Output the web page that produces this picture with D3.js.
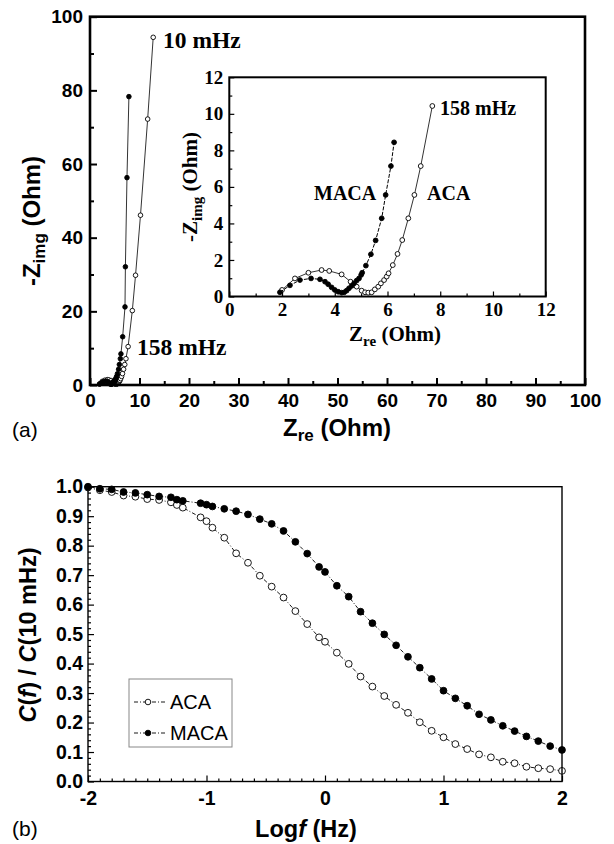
<!DOCTYPE html>
<html>
<head>
<meta charset="utf-8">
<script src="https://cdn.jsdelivr.net/npm/d3@7"></script>
<style>
  body { margin: 0; background: #fff; }
  svg { display: block; }
  .sans { font-family: "Liberation Sans", Arial, sans-serif; }
  .serif { font-family: "Liberation Serif", "Times New Roman", serif; }
</style>
</head>
<body>
<svg width="614" height="844"></svg>
<script>
// Nyquist data (Zre, -Zimg) in Ohm
const acaZre  = [2.0, 2.49, 3.0, 3.5, 3.79, 4.26, 4.6, 4.83, 5.02, 5.15, 5.27, 5.4, 5.52, 5.65, 5.75, 5.87, 5.97, 6.04, 6.2, 6.38, 6.56, 6.79, 7.02, 7.26, 7.7, 8.55, 9.2, 10.2, 11.65, 12.77];
const acaZimg = [0.36, 0.99, 1.30, 1.45, 1.40, 1.21, 0.81, 0.54, 0.32, 0.23, 0.21, 0.23, 0.39, 0.54, 0.72, 0.90, 1.09, 1.27, 1.72, 2.33, 3.09, 4.28, 5.56, 7.14, 10.43, 20.2, 29.8, 46.1, 72.2, 94.4];
const macaZre  = [1.92, 2.3, 2.68, 3.1, 3.44, 3.63, 3.75, 3.88, 4.0, 4.13, 4.26, 4.36, 4.45, 4.54, 4.64, 4.73, 4.83, 4.92, 5.0, 5.04, 5.18, 5.37, 5.55, 5.78, 5.93, 6.13, 6.25, 6.6, 7.07, 7.15, 7.47, 7.86];
const macaZimg = [0.23, 0.61, 0.9, 0.99, 0.94, 0.81, 0.67, 0.5, 0.36, 0.26, 0.21, 0.23, 0.32, 0.45, 0.58, 0.72, 0.87, 0.99, 1.18, 1.3, 1.69, 2.31, 3.07, 4.28, 5.56, 7.14, 8.44, 13.1, 21.2, 32.1, 56.3, 78.3];

// normalised capacitance vs log f
const logF = [-2, -1.9, -1.8, -1.7, -1.6, -1.5, -1.4, -1.3, -1.25, -1.2, -1.05, -1.0, -0.95,
  -0.85, -0.75, -0.65, -0.55, -0.45, -0.35, -0.25, -0.15, -0.05, 0,
  0.1, 0.2, 0.3, 0.4, 0.5, 0.6, 0.7, 0.8, 0.9, 1.0, 1.1, 1.2, 1.3, 1.4, 1.5, 1.6, 1.7, 1.8, 1.9, 2.0];
const acaC = [0.997, 0.988, 0.982, 0.97, 0.966, 0.958, 0.955, 0.947, 0.938, 0.929, 0.896, 0.883, 0.861,
  0.827, 0.774, 0.742, 0.698, 0.661, 0.624, 0.578, 0.534, 0.489, 0.474,
  0.437, 0.399, 0.356, 0.322, 0.29, 0.26, 0.233, 0.201, 0.172, 0.15, 0.127, 0.11, 0.092, 0.082, 0.067, 0.062, 0.05, 0.045, 0.042, 0.036];
const macaC = [1.0, 0.993, 0.991, 0.982, 0.979, 0.973, 0.967, 0.964, 0.956, 0.952, 0.944, 0.939, 0.933,
  0.925, 0.917, 0.906, 0.89, 0.874, 0.85, 0.813, 0.773, 0.728, 0.711,
  0.664, 0.627, 0.576, 0.537, 0.499, 0.462, 0.423, 0.386, 0.348, 0.308, 0.282, 0.257, 0.228, 0.209, 0.189, 0.171, 0.153, 0.137, 0.12, 0.107];

const seriesNames = ['ACA', 'MACA'];

const svg = d3.select('svg');
const zip = (a, b) => a.map((d, i) => [d, b[i]]);
const aca = zip(acaZre, acaZimg);
const maca = zip(macaZre, macaZimg);

// draws inward ticks (major + minor) and a frame
const frameAxes = (g, o) => {
  const { x, y, xMajor, xMinor, yMajor, yMinor, big, small, font, size, weight, xPad, yPad, frameW, fmtX, fmtY } = o;
  const [x0, x1] = x.range(), [y0, y1] = y.range();
  const styleTicks = sel => {
    sel.select('.domain').remove();
    sel.selectAll('line').attr('stroke', '#000').attr('stroke-width', frameW > 2 ? 2 : 1.2);
    sel.selectAll('text').attr('class', font).attr('font-size', size).attr('font-weight', weight).attr('fill', '#000');
  };
  g.append('g').attr('transform', `translate(0,${y0})`)
    .call(d3.axisBottom(x).tickValues(xMinor).tickSize(-small).tickFormat(''))
    .call(styleTicks);
  g.append('g').attr('transform', `translate(0,${y0})`)
    .call(d3.axisBottom(x).tickValues(xMajor).tickSize(-big).tickPadding(xPad).tickFormat(fmtX))
    .call(styleTicks);
  g.append('g').attr('transform', `translate(${x0},0)`)
    .call(d3.axisLeft(y).tickValues(yMinor).tickSize(-small).tickFormat(''))
    .call(styleTicks);
  g.append('g').attr('transform', `translate(${x0},0)`)
    .call(d3.axisLeft(y).tickValues(yMajor).tickSize(-big).tickPadding(yPad).tickFormat(fmtY))
    .call(styleTicks);
  g.append('rect')
    .attr('x', x0).attr('y', y1)
    .attr('width', x1 - x0).attr('height', y0 - y1)
    .attr('fill', 'none').attr('stroke', '#000').attr('stroke-width', frameW);
};

const plotSeries = (g, data, x, y, opts) => {
  const line = d3.line().x(d => x(d[0])).y(d => y(d[1]));
  g.append('path')
    .attr('d', line(data))
    .attr('fill', 'none')
    .attr('stroke', '#000')
    .attr('stroke-width', opts.lw)
    .attr('stroke-dasharray', opts.dash || null);
  g.selectAll(null).data(data).enter().append('circle')
    .attr('cx', d => x(d[0]))
    .attr('cy', d => y(d[1]))
    .attr('r', opts.r)
    .attr('fill', opts.filled ? '#000' : '#fff')
    .attr('stroke', '#000')
    .attr('stroke-width', 0.9);
};

// subscripted axis title like "-Zimg (Ohm)"
const subTitle = (g, cls, transform, size, head, sub, tail) => {
  const t = g.append('text').attr('class', cls)
    .attr('transform', transform)
    .attr('text-anchor', 'middle').attr('font-size', size).attr('font-weight', 'bold');
  const shift = Math.round(size * 0.22);
  t.append('tspan').text(head);
  t.append('tspan').attr('font-size', Math.round(size * 0.7)).attr('dy', shift).text(sub);
  t.append('tspan').attr('dy', -shift).text(tail);
  return t;
};

// ---------- (a) main Nyquist plot ----------
const xA = d3.scaleLinear().domain([0, 100]).range([90, 585]);
const yA = d3.scaleLinear().domain([0, 100]).range([385, 16.7]);
const gA = svg.append('g');

plotSeries(gA, aca, xA, yA, { r: 2.3, filled: false, lw: 0.8 });
plotSeries(gA, maca, xA, yA, { r: 2.3, filled: true, lw: 0.8 });

frameAxes(gA, {
  x: xA, y: yA,
  xMajor: d3.range(0, 101, 10), xMinor: d3.range(5, 100, 10),
  yMajor: d3.range(0, 101, 20), yMinor: d3.range(10, 100, 20),
  big: 7, small: 4, font: 'sans', size: 19, weight: 'bold',
  xPad: 9, yPad: 7, frameW: 2.6, fmtX: d => d, fmtY: d => d
});

gA.append('text').attr('class', 'serif')
  .attr('x', 163).attr('y', 48).attr('font-size', 23.5).attr('font-weight', 'bold')
  .text('10 mHz');
gA.append('text').attr('class', 'serif')
  .attr('x', 137).attr('y', 355).attr('font-size', 23.5).attr('font-weight', 'bold')
  .text('158 mHz');

subTitle(gA, 'sans', 'translate(40,221) rotate(-90)', 24, '-Z', 'img', ' (Ohm)');
subTitle(gA, 'sans', 'translate(337,436)', 24, 'Z', 're', ' (Ohm)');

gA.append('text').attr('class', 'sans')
  .attr('x', 12).attr('y', 437).attr('font-size', 21).text('(a)');

// ---------- inset ----------
const xI = d3.scaleLinear().domain([0, 12]).range([229.3, 545.7]);
const yI = d3.scaleLinear().domain([0, 12]).range([296.5, 77.3]);
const gI = svg.append('g');
gI.append('rect').attr('x', 229.3).attr('y', 77.3).attr('width', 316.4).attr('height', 219.2).attr('fill', '#fff');

plotSeries(gI, aca.filter(d => d[1] < 11), xI, yI, { r: 2.4, filled: false, lw: 0.8 });
plotSeries(gI, maca.filter(d => d[1] < 11), xI, yI, { r: 2.4, filled: true, lw: 1, dash: '4,1.5' });

frameAxes(gI, {
  x: xI, y: yI,
  xMajor: d3.range(0, 13, 2), xMinor: d3.range(1, 12, 2),
  yMajor: d3.range(0, 13, 2), yMinor: d3.range(1, 12, 2),
  big: 5, small: 3, font: 'serif', size: 19, weight: 'bold',
  xPad: 6, yPad: 6, frameW: 2, fmtX: d => d, fmtY: d => d
});

gI.append('text').attr('class', 'serif')
  .attr('x', 440).attr('y', 115).attr('font-size', 20).attr('font-weight', 'bold')
  .text('158 mHz');
gI.append('text').attr('class', 'serif')
  .attr('x', 314).attr('y', 200).attr('font-size', 20).attr('font-weight', 'bold')
  .text(seriesNames[1]);
gI.append('text').attr('class', 'serif')
  .attr('x', 427).attr('y', 200).attr('font-size', 20).attr('font-weight', 'bold')
  .text(seriesNames[0]);

subTitle(gI, 'serif', 'translate(197,187) rotate(-90)', 21, '-Z', 'img', ' (Ohm)');
subTitle(gI, 'serif', 'translate(395,341)', 21, 'Z', 're', ' (Ohm)');

// ---------- (b) capacitance vs log f ----------
const xB = d3.scaleLinear().domain([-2, 2]).range([88, 562]);
const yB = d3.scaleLinear().domain([0, 1]).range([781.5, 486.7]);
const gB = svg.append('g');

plotSeries(gB, zip(logF, acaC), xB, yB, { r: 3.4, filled: false, lw: 0.9, dash: '4,2,1,2' });
plotSeries(gB, zip(logF, macaC), xB, yB, { r: 3.4, filled: true, lw: 0.9, dash: '4,2,1,2' });

frameAxes(gB, {
  x: xB, y: yB,
  xMajor: d3.range(-2, 3, 1), xMinor: d3.range(-19, 20).filter(d => d % 10 !== 0).map(d => d / 10),
  yMajor: d3.range(0, 11).map(d => d / 10), yMinor: d3.range(0, 51).filter(d => d % 5 !== 0).map(d => d / 50),
  big: 6, small: 3, font: 'sans', size: 19.5, weight: 'bold',
  xPad: 10, yPad: 5, frameW: 1.4, fmtX: d => String(d), fmtY: d3.format('.1f')
});

const yLabB = gB.append('text').attr('class', 'sans')
  .attr('transform', 'translate(36,635) rotate(-90)')
  .attr('text-anchor', 'middle').attr('font-size', 23.5).attr('font-weight', 'bold');
yLabB.append('tspan').attr('font-style', 'italic').text('C');
yLabB.append('tspan').text('(');
yLabB.append('tspan').attr('font-style', 'italic').text('f');
yLabB.append('tspan').text(') / ');
yLabB.append('tspan').attr('font-style', 'italic').text('C');
yLabB.append('tspan').text('(10 mHz)');

const xLabB = gB.append('text').attr('class', 'sans')
  .attr('x', 306).attr('y', 837).attr('text-anchor', 'middle')
  .attr('font-size', 23.5).attr('font-weight', 'bold');
xLabB.append('tspan').text('Log');
xLabB.append('tspan').attr('font-style', 'italic').text('f');
xLabB.append('tspan').text(' (Hz)');

gB.append('text').attr('class', 'sans')
  .attr('x', 12).attr('y', 836).attr('font-size', 21).text('(b)');

// legend
const legend = gB.append('g');
legend.append('rect')
  .attr('x', 129).attr('y', 679).attr('width', 103).attr('height', 68)
  .attr('fill', '#fff').attr('stroke', '#888').attr('stroke-width', 1);
seriesNames.forEach((name, i) => {
  const ly = 702 + i * 31;
  legend.append('line')
    .attr('x1', 134).attr('x2', 166).attr('y1', ly).attr('y2', ly)
    .attr('stroke', '#000').attr('stroke-width', 0.9).attr('stroke-dasharray', '4,2,1,2');
  legend.append('circle')
    .attr('cx', 148).attr('cy', ly).attr('r', 2.8)
    .attr('fill', i === 1 ? '#000' : '#fff').attr('stroke', '#000').attr('stroke-width', 0.9);
  legend.append('text').attr('class', 'sans')
    .attr('x', 170).attr('y', ly + 7).attr('font-size', 20)
    .text(name);
});
</script>
</body>
</html>
